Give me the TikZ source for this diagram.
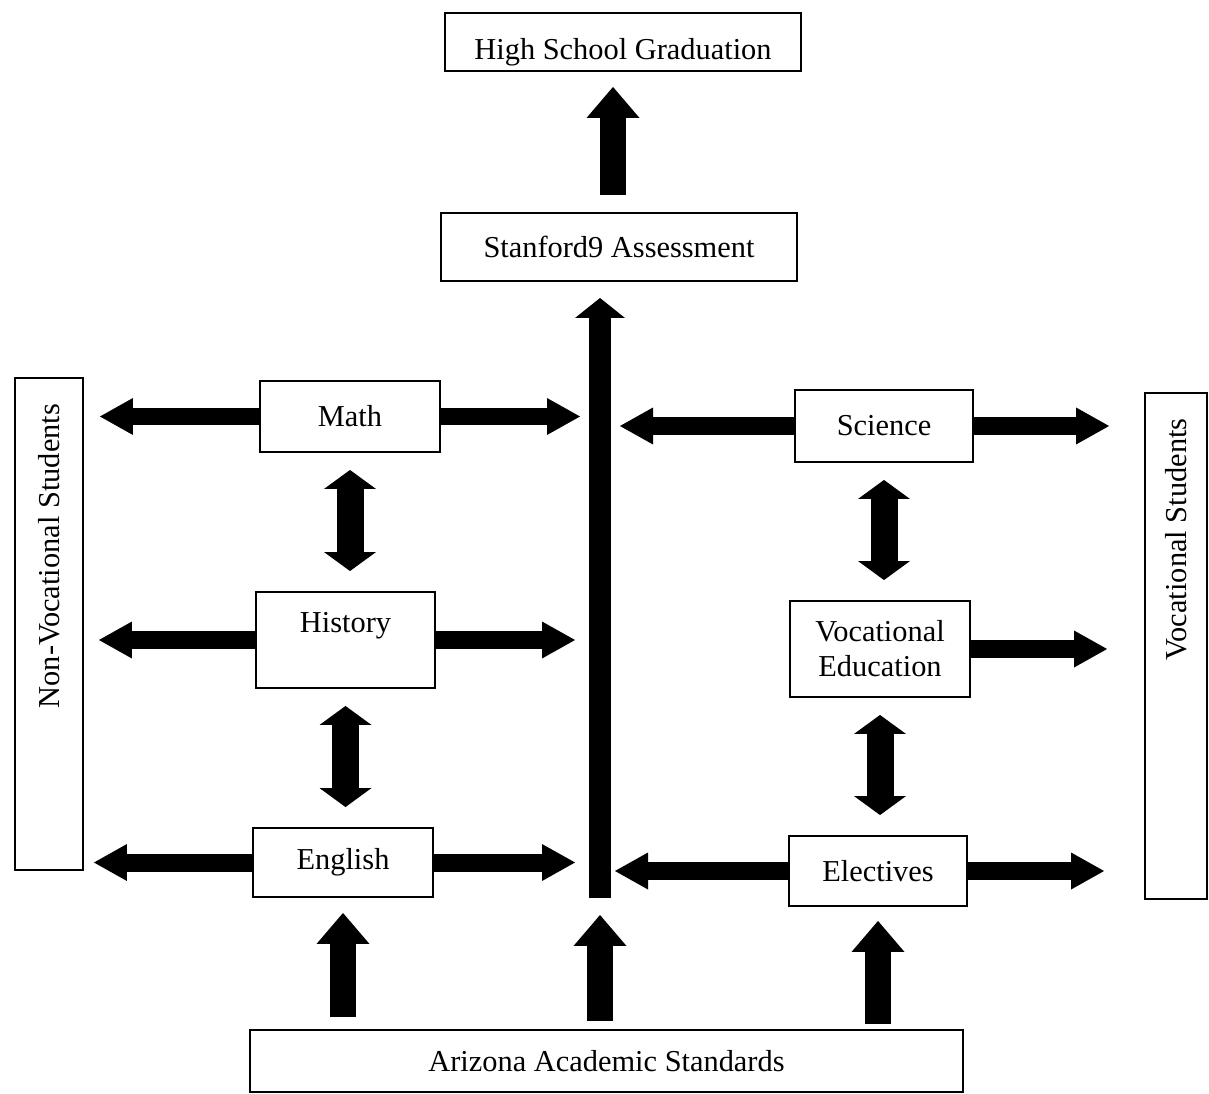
\documentclass[tikz,border=0pt]{standalone}
\usepackage{fontspec}
\setmainfont{Liberation Serif}
\usetikzlibrary{arrows.meta}

\begin{document}
\begin{tikzpicture}[x=0.02cm, y=-0.02cm,
    box/.style={draw, line width=1.1pt, inner sep=0pt, align=center, font=\fontsize{17.3}{20}\selectfont},
    side/.style={box, rotate=90, align=flush right, inner xsep=0.52cm},
    harrow/.style={line width=0.36cm, -{Triangle[width=0.74cm, length=0.66cm, line width=0pt]}},
    varrow/.style={line width=0.54cm, {Triangle[width=1.04cm, length=0.38cm, line width=0pt]}-{Triangle[width=1.04cm, length=0.38cm, line width=0pt]}, shorten <=0.34cm, shorten >=0.4cm},
    uarrow/.style={line width=0.52cm, -{Triangle[width=1.06cm, length=0.62cm, line width=0pt]}}]
    \useasboundingbox (0,0) rectangle (1209,1094);

    % Define boxes
    \node[box, minimum width=7.12cm, text height=0.94cm, text depth=0.22cm] (hsg) at (623,42) {High School Graduation};
    \node[box, minimum width=7.12cm, minimum height=1.36cm] (stan) at (619,247) {Stanford9 Assessment};
    \node[box, minimum width=3.6cm, minimum height=1.42cm] (math) at (350,416.5) {Math};
    \node[box, minimum width=3.58cm, minimum height=1.92cm] (hist) at (345.5,640) {History\\\mbox{}};
    \node[box, minimum width=3.6cm, minimum height=1.38cm] (eng) at (343,862.5) {English};
    \node[box, minimum width=3.56cm, minimum height=1.44cm] (sci) at (884,426) {Science};
    \node[box, minimum width=3.6cm, minimum height=1.92cm] (voc) at (880,649) {Vocational\\Education};
    \node[box, minimum width=3.56cm, minimum height=1.4cm] (elec) at (878,871) {Electives};
    \node[box, minimum width=14.26cm, minimum height=1.24cm] (aas) at (606.5,1061) {Arizona Academic Standards};
    \node[side, minimum height=1.36cm, text width=8.8cm] (nonvoc) at (49,624) {Non-Vocational Students};
    \node[side, minimum height=1.24cm, text width=9.1cm] (vocst) at (1176,646) {Vocational Students};

    % Central bar
    \coordinate (barbot) at (600,898);
    \coordinate (bartop) at (600,298);
    \draw[line width=0.44cm, -{Triangle[width=1cm, length=0.4cm, line width=0pt]}] (barbot) -- (bartop);

    % Up to graduation
    \draw[uarrow, shorten <=0.34cm, shorten >=0.3cm] ([xshift=-0.12cm]stan.north) -- ([xshift=-0.12cm]stan.north |- hsg.south);

    % Up from standards
    \draw[uarrow, shorten <=0.24cm, shorten >=0.3cm] (aas.north -| eng.south) -- (eng.south);
    \draw[uarrow, shorten <=0.16cm, shorten >=0.34cm] (aas.north -| barbot) -- (barbot);
    \draw[uarrow, shorten <=0.1cm, shorten >=0.28cm] (aas.north -| elec.south) -- (elec.south);

    % Left column (south of rotated box is its right side)
    \draw[harrow] (math.west) -- ([xshift=0.32cm]math.west -| nonvoc.south);
    \draw[harrow] (hist.west) -- ([xshift=0.3cm]hist.west -| nonvoc.south);
    \draw[harrow] (eng.west) -- ([xshift=0.2cm]eng.west -| nonvoc.south);
    \draw[harrow] (math.east) -- ([xshift=-0.4cm]math.east -| bartop);
    \draw[harrow] (hist.east) -- ([xshift=-0.5cm]hist.east -| bartop);
    \draw[harrow] (eng.east) -- ([xshift=-0.5cm]eng.east -| bartop);

    % Right column (north of rotated box is its left side)
    \draw[harrow] (sci.west) -- ([xshift=0.4cm]sci.west -| bartop);
    \draw[harrow] (elec.west) -- ([xshift=0.3cm]elec.west -| bartop);
    \draw[harrow] (sci.east) -- ([xshift=-0.7cm]sci.east -| vocst.north);
    \draw[harrow] (voc.east) -- ([xshift=-0.74cm]voc.east -| vocst.north);
    \draw[harrow] (elec.east) -- ([xshift=-0.8cm]elec.east -| vocst.north);

    % Between subjects
    \draw[varrow] (math.south) -- (math.south |- hist.north);
    \draw[varrow] (hist.south) -- (hist.south |- eng.north);
    \draw[varrow] (sci.south) -- (sci.south |- voc.north);
    \draw[varrow] (voc.south) -- (voc.south |- elec.north);

\end{tikzpicture}
\end{document}
